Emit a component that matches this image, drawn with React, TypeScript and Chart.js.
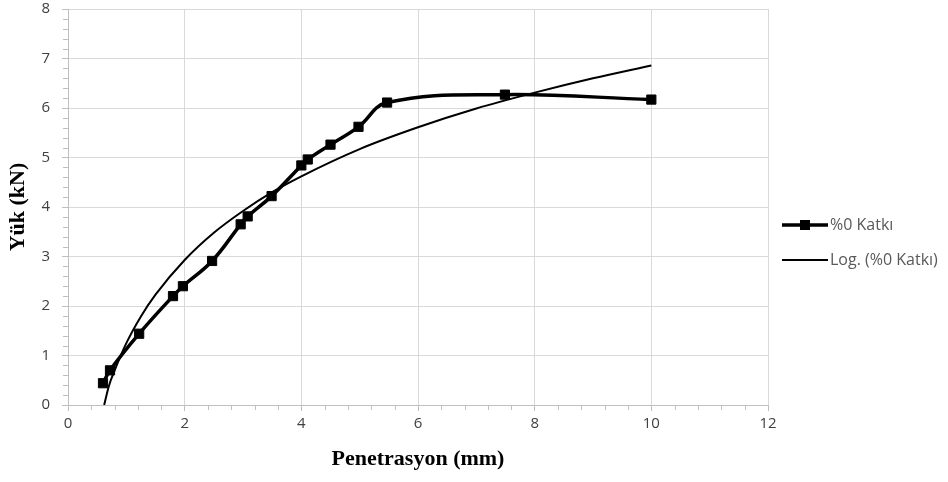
import React, { useEffect, useRef } from "react";
import { Chart, registerables } from "chart.js";

Chart.register(...registerables);

// Measured series: penetration (mm) vs load (kN)
const penetration = [0.6, 0.72, 1.22, 1.8, 1.97, 2.47, 2.96, 3.08, 3.49, 4.0, 4.11, 4.5, 4.98, 5.47, 7.49, 10.0];
const load = [0.44, 0.7, 1.44, 2.2, 2.4, 2.91, 3.65, 3.81, 4.22, 4.84, 4.96, 5.26, 5.62, 6.11, 6.27, 6.17];

// Logarithmic trend line
const trendX = [0.62, 0.7, 0.8, 1.0, 1.25, 1.5, 2.0, 2.5, 3.0, 3.5, 4.0, 5.0, 6.0, 7.0, 8.0, 9.0, 10.0];
const trendY = [0.0, 0.38, 0.7, 1.25, 1.79, 2.23, 2.93, 3.48, 3.92, 4.3, 4.62, 5.17, 5.61, 5.99, 6.31, 6.6, 6.86];

const seriesLabel = "%0 Katkı";
const trendLabel = "Log. (%0 Katkı)";
const xTitle = "Penetrasyon (mm)";
const yTitle = "Yük (kN)";

const xMin = 0;
const xMax = 12;
const xStep = 2;
const xMinorStep = 0.4;
const yMin = 0;
const yMax = 8;
const yStep = 1;
const yMinorStep = 0.2;

const GRID = "#d9d9d9";
const AXIS = "#bfbfbf";
const TICK_TEXT = "#404040";

const minorTicksPlugin = {
  id: "minorTicks",
  afterDraw(chart: any) {
    const { ctx, chartArea, scales } = chart;
    const xs = scales.x;
    const ys = scales.y;
    ctx.save();
    ctx.strokeStyle = AXIS;
    ctx.lineWidth = 1;
    ctx.beginPath();
    const ny = Math.round((yMax - yMin) / yMinorStep);
    for (let i = 0; i <= ny; i++) {
      const v = yMin + i * yMinorStep;
      if (Math.abs(v / yStep - Math.round(v / yStep)) < 1e-6) continue;
      const py = Math.round(ys.getPixelForValue(v)) + 0.5;
      ctx.moveTo(chartArea.left - 5, py);
      ctx.lineTo(chartArea.left, py);
    }
    const nx = Math.round((xMax - xMin) / xMinorStep);
    for (let i = 0; i <= nx; i++) {
      const v = xMin + i * xMinorStep;
      if (Math.abs(v / xStep - Math.round(v / xStep)) < 1e-6) continue;
      const px = Math.round(xs.getPixelForValue(v)) + 0.5;
      ctx.moveTo(px, chartArea.bottom);
      ctx.lineTo(px, chartArea.bottom + 5);
    }
    ctx.stroke();
    ctx.restore();
  },
};

const legendPlugin = {
  id: "sideLegend",
  afterDraw(chart: any) {
    const { ctx, chartArea } = chart;
    const x0 = chartArea.right + 14;
    const ys = [225, 260];
    ctx.save();
    chart.data.datasets.forEach((ds: any, i: number) => {
      const y = ys[i];
      ctx.strokeStyle = ds.borderColor;
      ctx.lineWidth = i === 0 ? 3.5 : 2;
      ctx.beginPath();
      ctx.moveTo(x0, y);
      ctx.lineTo(x0 + 46, y);
      ctx.stroke();
      if (i === 0) {
        ctx.fillStyle = ds.borderColor;
        ctx.fillRect(x0 + 23 - 5, y - 5, 10, 10);
      }
      ctx.fillStyle = "#595959";
      ctx.font = "16px 'Open Sans'";
      ctx.textBaseline = "middle";
      ctx.textAlign = "left";
      ctx.fillText(ds.label, x0 + 48, y);
    });
    ctx.restore();
  },
};

export default function App() {
  const canvasRef = useRef<HTMLCanvasElement | null>(null);

  useEffect(() => {
    if (!canvasRef.current) return;
    const chart = new Chart(canvasRef.current, {
      type: "scatter",
      data: {
        datasets: [
          {
            label: seriesLabel,
            data: penetration.map((x, i) => ({ x, y: load[i] })),
            showLine: true,
            borderColor: "#000000",
            backgroundColor: "#000000",
            borderWidth: 3.5,
            tension: 0.4,
            pointStyle: "rect",
            pointRadius: 6.5,
            pointBorderWidth: 1,
            pointHoverRadius: 6.5,
            order: 1,
          },
          {
            label: trendLabel,
            data: trendX.map((x, i) => ({ x, y: trendY[i] })),
            showLine: true,
            borderColor: "#000000",
            backgroundColor: "#000000",
            borderWidth: 2,
            cubicInterpolationMode: "monotone",
            pointRadius: 0,
            pointHoverRadius: 0,
            order: 2,
          },
        ],
      },
      options: {
        animation: false,
        responsive: false,
        maintainAspectRatio: false,
        layout: { padding: { top: 9, right: 180, left: 0, bottom: 0 } },
        plugins: {
          legend: { display: false },
          tooltip: { enabled: false },
        },
        scales: {
          x: {
            type: "linear",
            min: xMin,
            max: xMax,
            afterFit: (s: any) => {
              s.height = 77;
              s.paddingLeft = 0;
              s.paddingRight = 0;
            },
            ticks: {
              stepSize: xStep,
              color: TICK_TEXT,
              font: { family: "'Open Sans'", size: 15 },
              padding: 4,
            },
            grid: {
              color: GRID,
              lineWidth: 1,
              tickLength: 6,
              tickColor: AXIS,
            },
            border: { color: AXIS, width: 1 },
            title: {
              display: true,
              text: xTitle,
              color: "#000000",
              font: { family: "'Liberation Serif'", size: 22, weight: "bold" },
              padding: { top: 0, bottom: 9 },
            },
          },
          y: {
            type: "linear",
            min: yMin,
            max: yMax,
            afterFit: (s: any) => {
              s.width = 68;
              s.paddingTop = 0;
              s.paddingBottom = 0;
            },
            ticks: {
              stepSize: yStep,
              color: TICK_TEXT,
              font: { family: "'Open Sans'", size: 15 },
              padding: 12,
            },
            grid: {
              color: GRID,
              lineWidth: 1,
              tickLength: 6,
              tickColor: AXIS,
            },
            border: { color: AXIS, width: 1 },
            title: {
              display: true,
              text: yTitle,
              color: "#000000",
              font: { family: "'Liberation Serif'", size: 22, weight: "bold" },
              padding: { top: 5, bottom: 0 },
            },
          },
        },
      },
      plugins: [minorTicksPlugin, legendPlugin],
    } as any);
    return () => chart.destroy();
  }, []);

  return (
    <div style={{ position: "fixed", left: 0, top: 0, width: 948, height: 482, background: "#ffffff" }}>
      <canvas ref={canvasRef} width={948} height={482} style={{ width: 948, height: 482 }} />
    </div>
  );
}
